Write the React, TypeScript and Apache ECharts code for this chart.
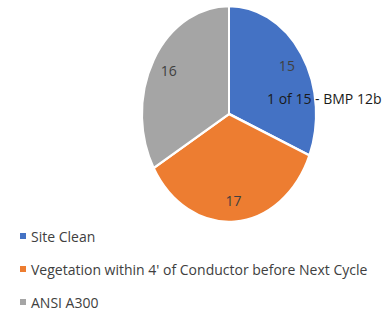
import React, { useEffect, useRef } from "react";
import * as echarts from "echarts";

const categories = ["Site Clean", "Vegetation within 4' of Conductor before Next Cycle", "ANSI A300"];
const values = [15, 17, 16];
const colors = ["#4472C4", "#ED7D31", "#A5A5A5"];
const overlayText = "1 of 15 - BMP 12b";

const FONT = "'Open Sans', Calibri, sans-serif";

export default function App() {
  const ref = useRef<HTMLDivElement>(null);
  useEffect(() => {
    if (!ref.current) return;
    const chart = echarts.init(ref.current, null, { renderer: "svg" });
    const total = values.reduce((a, b) => a + b, 0);
    const cx = 229, cy = 114, rx = 87, ry = 108;
    const series = categories.map((name, i) => {
      const before = values.slice(0, i).reduce((a, b) => a + b, 0);
      return {
        type: "custom",
        name,
        coordinateSystem: "none",
        itemStyle: { color: colors[i] },
        data: [[values[i]]],
        renderItem: (params: any, api: any) => {
          const v = api.value(0);
          const a0 = (before / total) * Math.PI * 2;
          const a1 = ((before + v) / total) * Math.PI * 2;
          const mid = (a0 + a1) / 2;
          const lr = 0.8;
          return {
            type: "group",
            children: [
              {
                type: "sector",
                x: cx,
                y: cy,
                scaleY: ry / rx,
                shape: { cx: 0, cy: 0, r0: 0, r: rx, startAngle: a0 - Math.PI / 2, endAngle: a1 - Math.PI / 2, clockwise: true },
                style: { fill: colors[i], stroke: "#ffffff", lineWidth: 2, strokeNoScale: true },
              },
              {
                type: "text",
                x: cx + Math.sin(mid) * rx * lr,
                y: cy - Math.cos(mid) * ry * lr,
                style: { text: String(v), fill: "#404040", font: `14px ${FONT}`, align: "center", verticalAlign: "middle" },
              },
            ],
          };
        },
      };
    });
    chart.setOption({
      animation: false,
      backgroundColor: "#ffffff",
      title: {
        text: overlayText,
        left: 267,
        top: 91,
        padding: 0,
        textStyle: { fontFamily: FONT, fontSize: 14, fontWeight: "normal", color: "#1a1a1a" },
      },
      legend: {
        orient: "vertical",
        left: 20,
        top: 229,
        padding: 0,
        itemWidth: 6,
        itemHeight: 6,
        itemGap: 19,
        icon: "rect",
        data: categories,
        textStyle: { fontFamily: FONT, fontSize: 14, color: "#404040" },
      },
      series,
    } as any);
    return () => chart.dispose();
  }, []);
  return <div ref={ref} style={{ position: "fixed", left: 0, top: 0, width: 385, height: 314 }} />;
}
